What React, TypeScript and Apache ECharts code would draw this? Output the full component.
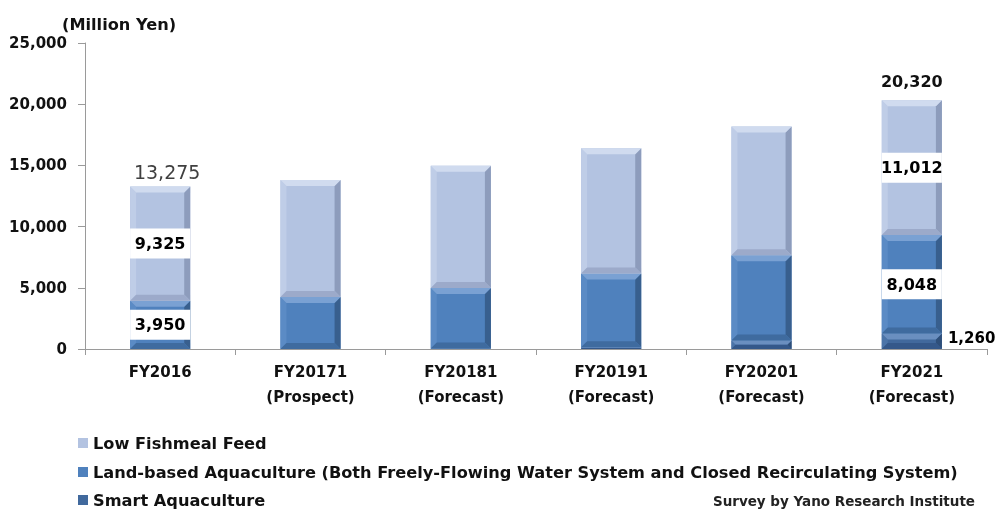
import React, { useEffect, useRef } from "react";
import * as echarts from "echarts";

const categories = [
  "FY2016",
  "FY20171\n(Prospect)",
  "FY20181\n(Forecast)",
  "FY20191\n(Forecast)",
  "FY20201\n(Forecast)",
  "FY2021\n(Forecast)",
];
const smartAquaculture = [0, 10, 50, 150, 700, 1260];
const landBasedAquaculture = [3950, 4240, 4930, 6010, 6960, 8048];
const lowFishmealFeed = [9325, 9560, 10000, 10250, 10520, 11012];

const seriesNames = [
  "Low Fishmeal Feed",
  "Land-based Aquaculture (Both Freely-Flowing Water System and Closed Recirculating System)",
  "Smart Aquaculture",
];

const yMin = 0;
const yMax = 25000;
const yInterval = 5000;

// which categories carry value labels
const smartLabelIdx = [5];
const landLabelIdx = [0, 5];
const lowLabelIdx = [0, 5];
const totalLabelIdx = [0, 5];

const FONT = '"DejaVu Sans", sans-serif';

const palettes = {
  low: { main: "#B3C3E1", top: "#D0DBEF", left: "#BFCDE7", right: "#8D9CBC", bottom: "#9CAACA" },
  land: { main: "#4F81BD", top: "#7AA1D3", left: "#5B8BC5", right: "#385F8E", bottom: "#3F6B9F" },
  smart: { main: "#41699D", top: "#6A8FC0", left: "#4B74A8", right: "#2E4F7A", bottom: "#34588A" },
};

const fmt = (v: number) => v.toLocaleString("en-US");

function makeRender(pal: any, labelIdx: number[], labelMode: "box" | "right") {
  return (params: any, api: any) => {
    const i = api.value(0);
    const base = api.value(1);
    const top = api.value(2);
    const p0 = api.coord([i, base]);
    const p1 = api.coord([i, top]);
    const bw = api.size([1, 0])[0] * 0.4;
    const cx = p0[0];
    const x0 = cx - bw / 2;
    const x1 = cx + bw / 2;
    const yB = p0[1];
    const yT = p1[1];
    const h = yB - yT;
    if (h <= 0) return null;
    const b = Math.min(6, h / 2);
    const children: any[] = [
      { type: "rect", shape: { x: x0, y: yT, width: bw, height: h }, style: { fill: pal.main } },
      { type: "polygon", shape: { points: [[x0, yT], [x0 + b, yT + b], [x0 + b, yB - b], [x0, yB]] }, style: { fill: pal.left } },
      { type: "polygon", shape: { points: [[x1, yT], [x1 - b, yT + b], [x1 - b, yB - b], [x1, yB]] }, style: { fill: pal.right } },
      { type: "polygon", shape: { points: [[x0, yT], [x1, yT], [x1 - b, yT + b], [x0 + b, yT + b]] }, style: { fill: pal.top } },
      { type: "polygon", shape: { points: [[x0, yB], [x1, yB], [x1 - b, yB - b], [x0 + b, yB - b]] }, style: { fill: pal.bottom } },
    ];
    if (labelIdx.indexOf(i) >= 0) {
      const cy = (yT + yB) / 2;
      const text = fmt(top - base);
      if (labelMode === "box") {
        children.push({ type: "rect", shape: { x: x0, y: cy - 15, width: bw, height: 30 }, style: { fill: "#ffffff" } });
        children.push({
          type: "text",
          style: { x: cx, y: cy, text, align: "center", verticalAlign: "middle", fontFamily: FONT, fontWeight: "bold", fontSize: 16, fill: "#000000" },
        });
      } else {
        children.push({
          type: "text",
          style: { x: x1 + 6, y: cy - 3, text, align: "left", verticalAlign: "middle", fontFamily: FONT, fontWeight: "bold", fontSize: 15, fill: "#000000" },
        });
      }
    }
    return { type: "group", children };
  };
}

const legendTops = [435, 464, 492];
const legendColors = [palettes.low.main, palettes.land.main, palettes.smart.main];

export default function App() {
  const ref = useRef<HTMLDivElement>(null);
  useEffect(() => {
    if (!ref.current) return;
    const chart = echarts.init(ref.current, undefined, { renderer: "svg" });

    const smartData = smartAquaculture.map((v, i) => [i, 0, v]);
    const landData = landBasedAquaculture.map((v, i) => [i, smartAquaculture[i], smartAquaculture[i] + v]);
    const lowData = lowFishmealFeed.map((v, i) => {
      const b = smartAquaculture[i] + landBasedAquaculture[i];
      return [i, b, b + v];
    });
    const totals = lowFishmealFeed.map((v, i) => v + smartAquaculture[i] + landBasedAquaculture[i]);
    const totalData = totals.map((t, i) => [i, t]);

    const legends = seriesNames.map((name, k) => ({
      orient: "horizontal",
      left: 78,
      top: legendTops[k],
      padding: 0,
      itemWidth: 10,
      itemHeight: 10,
      icon: "rect",
      selectedMode: false,
      textStyle: { fontFamily: FONT, fontWeight: "bold", fontSize: 16.2, color: "#111", lineHeight: 16 },
      data: [{ name, itemStyle: { color: legendColors[k] } }],
    }));

    chart.setOption({
      animation: false,
      grid: { left: 85, right: 16, top: 43, bottom: 161 },
      legend: legends,
      xAxis: {
        type: "category",
        data: categories,
        axisLine: { show: true, lineStyle: { color: "#9a9a9a", width: 1 } },
        axisTick: { show: true, length: 6, alignWithLabel: false, lineStyle: { color: "#9a9a9a" } },
        axisLabel: { fontFamily: FONT, fontWeight: "bold", fontSize: 15, color: "#111", lineHeight: 25, margin: 10, interval: 0 },
      },
      yAxis: {
        type: "value",
        min: yMin,
        max: yMax,
        interval: yInterval,
        splitLine: { show: false },
        axisLine: { show: true, lineStyle: { color: "#9a9a9a", width: 1 } },
        axisTick: { show: true, length: 7, lineStyle: { color: "#9a9a9a" } },
        axisLabel: { fontFamily: FONT, fontWeight: "bold", fontSize: 15, color: "#111", margin: 18, formatter: (v: number) => fmt(v) },
      },
      graphic: [
        {
          type: "text",
          left: 62,
          top: 16,
          style: { text: "(Million Yen)", fontFamily: FONT, fontWeight: "bold", fontSize: 16.2, fill: "#111" },
        },
        {
          type: "text",
          right: 28,
          top: 494,
          style: { text: "Survey by Yano Research Institute", fontFamily: FONT, fontWeight: "bold", fontSize: 13.5, fill: "#222" },
        },
      ],
      series: [
        {
          name: seriesNames[2],
          type: "custom",
          renderItem: makeRender(palettes.smart, smartLabelIdx, "right"),
          itemStyle: { color: palettes.smart.main },
          encode: { x: 0, y: [1, 2] },
          data: smartData,
          silent: true,
          z: 2,
        },
        {
          name: seriesNames[1],
          type: "custom",
          renderItem: makeRender(palettes.land, landLabelIdx, "box"),
          itemStyle: { color: palettes.land.main },
          encode: { x: 0, y: [1, 2] },
          data: landData,
          silent: true,
          z: 3,
        },
        {
          name: seriesNames[0],
          type: "custom",
          renderItem: makeRender(palettes.low, lowLabelIdx, "box"),
          itemStyle: { color: palettes.low.main },
          encode: { x: 0, y: [1, 2] },
          data: lowData,
          silent: true,
          z: 4,
        },
        {
          name: "Total",
          type: "custom",
          renderItem: (params: any, api: any) => {
            const i = api.value(0);
            if (totalLabelIdx.indexOf(i) < 0) return null;
            const p = api.coord([i, api.value(1)]);
            const first = i === 0;
            return {
              type: "text",
              style: {
                x: p[0] + (first ? 7 : 0),
                y: p[1] - (first ? 15 : 19),
                text: fmt(api.value(1)),
                align: "center",
                verticalAlign: "middle",
                fontFamily: FONT,
                fontWeight: first ? "normal" : "bold",
                fontSize: first ? 19 : 16,
                fill: first ? "#404040" : "#111",
              },
            };
          },
          encode: { x: 0, y: 1 },
          data: totalData,
          silent: true,
          z: 5,
        },
      ],
    });
    return () => chart.dispose();
  }, []);
  return <div ref={ref} style={{ position: "fixed", left: 0, top: 0, width: 1003, height: 510 }} />;
}
